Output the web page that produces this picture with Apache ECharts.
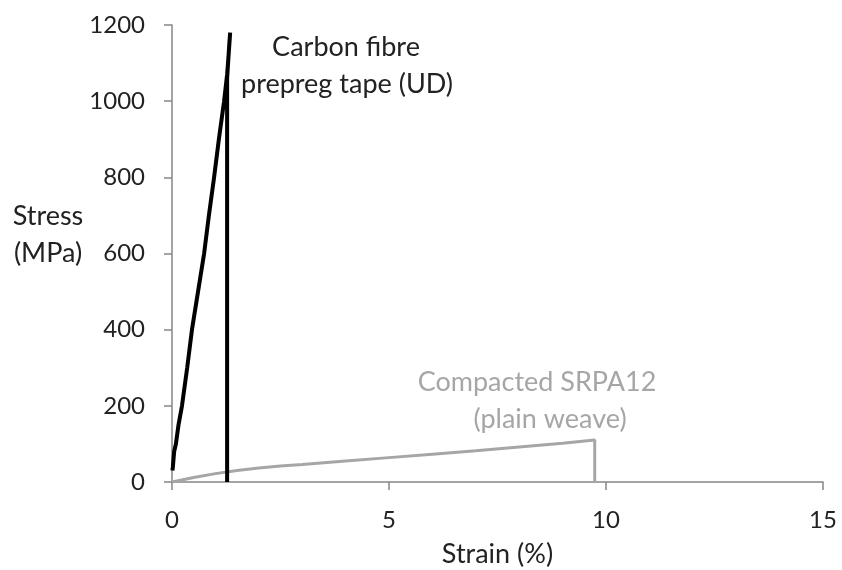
<!DOCTYPE html>
<html><head><meta charset="utf-8">
<script src="https://cdn.jsdelivr.net/npm/echarts@6/dist/echarts.min.js"></script>
<style>html,body{margin:0;padding:0;background:#fff}#c{width:842px;height:570px}</style>
</head><body><div id="c"></div>
<script>
// Carbon fibre prepreg tape (UD): [strain %, stress MPa]
const carbonStrain = [0.01, 0.02, 0.05, 0.09, 0.15, 0.23, 0.35, 0.46, 0.60, 0.74, 0.85, 0.97, 1.08, 1.20, 1.27, 1.31, 1.34, 1.32, 1.27, 1.27];
const carbonStress = [30, 40, 80, 100, 150, 200, 300, 400, 500, 600, 700, 800, 900, 1000, 1070, 1130, 1180, 1150, 1060, 0];
// Compacted SRPA12 (plain weave)
const srpaStrain = [0, 0.5, 1.0, 1.5, 2.0, 2.5, 3.0, 4.0, 5.0, 6.0, 7.0, 8.0, 9.0, 9.74, 9.74];
const srpaStress = [0, 12, 22, 30, 37, 42, 46, 55, 64, 73, 82, 92, 102, 110, 0];
const xTicks = [0, 5, 10, 15];
const yTicks = [0, 200, 400, 600, 800, 1000, 1200];

const pair = (a, b) => a.map((v, i) => [v, b[i]]);
const F = 'Lato';
const FS = 24;   // tick labels
const FT = 27;   // other text
const txt = (text, x, y, color) => ({
  type: 'text', x: x, y: y,
  style: { text: text, fontFamily: F, fontSize: FT, fill: color, align: 'center', verticalAlign: 'middle' }
});
const chart = echarts.init(document.getElementById('c'));
chart.setOption({
  animation: false,
  backgroundColor: '#fff',
  grid: { left: 172, right: 19, top: 25, bottom: 88, containLabel: false, outerBoundsMode: 'none' },
  xAxis: {
    type: 'value', min: xTicks[0], max: xTicks[xTicks.length - 1], interval: 5,
    name: 'Strain (%)', nameLocation: 'middle', nameGap: 59,
    nameTextStyle: { fontFamily: F, fontSize: FT, color: '#222' },
    axisLine: { lineStyle: { color: '#868686', width: 1.5 } },
    axisTick: { show: true, length: 8, lineStyle: { color: '#868686', width: 1.5 } },
    axisLabel: { fontFamily: F, fontSize: FS, color: '#222', margin: 26 },
    splitLine: { show: false }
  },
  yAxis: {
    type: 'value', min: yTicks[0], max: yTicks[yTicks.length - 1], interval: 200,
    axisLine: { show: true, lineStyle: { color: '#868686', width: 1.5 } },
    axisTick: { show: true, length: 8, lineStyle: { color: '#868686', width: 1.5 } },
    axisLabel: { fontFamily: F, fontSize: FS, color: '#222', margin: 27, formatter: v => String(v) },
    splitLine: { show: false }
  },
  series: [
    { type: 'line', name: 'Compacted SRPA12', data: pair(srpaStrain, srpaStress), showSymbol: false,
      lineStyle: { color: '#a6a6a6', width: 3 }, z: 2 },
    { type: 'line', name: 'Carbon fibre', data: pair(carbonStrain, carbonStress), showSymbol: false,
      lineStyle: { color: '#000', width: 4 }, z: 3 }
  ],
  graphic: [
    txt('Stress', 48, 216, '#222'),
    txt('(MPa)', 48, 253, '#222'),
    txt('Carbon fibre', 346, 47, '#222'),
    txt('prepreg tape (UD)', 347, 84, '#222'),
    txt('Compacted SRPA12', 537, 382, '#a6a6a6'),
    txt('(plain weave)', 550, 419, '#a6a6a6')
  ]
});
</script></body></html>
